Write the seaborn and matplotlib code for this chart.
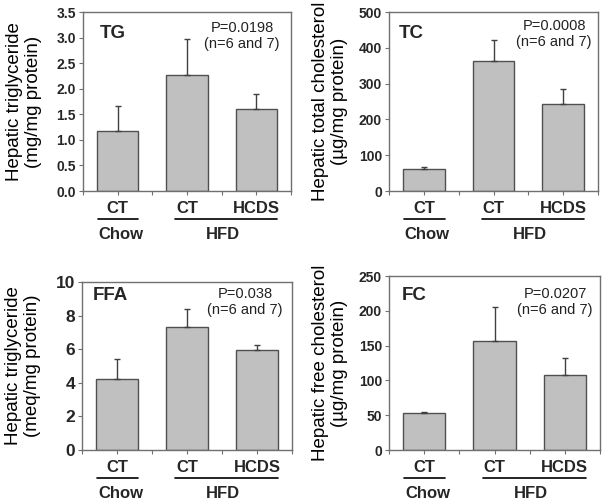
import numpy as np
import matplotlib
matplotlib.use("Agg")
import matplotlib.pyplot as plt
import matplotlib.transforms as mtransforms
import seaborn as sns

# group keys and what's printed under the bars
groups = ["Chow CT", "HFD CT", "HFD HCDS"]
tick_labels = ["CT", "CT", "HCDS"]
diet_labels = ["Chow", "HFD"]

# values (mean and upper error)
tg_mean = [1.18, 2.27, 1.61]
tg_err = [0.48, 0.70, 0.28]
tc_mean = [61, 363, 244]
tc_err = [5, 60, 40]
ffa_mean = [4.22, 7.32, 5.97]
ffa_err = [1.22, 1.10, 0.28]
fc_mean = [53, 157, 108]
fc_err = [2, 49, 24]

sns.set_theme(style="ticks")
plt.rcParams["font.family"] = ["Liberation Sans", "DejaVu Sans"]

W, H = 607, 503
fig = plt.figure(figsize=(W / 100, H / 100), dpi=100)
fig.patch.set_facecolor("white")

# left, right, top, bottom in pixels; name offsets (x from left, y from top); p text offsets
panels = [
    dict(box=(83, 291, 12, 191), mean=tg_mean, err=tg_err, ylim=3.5, step=0.5, fmt="{:.1f}", tfs=10,
         ylabel="Hepatic triglyceride\n(mg/mg protein)", name="TG", name_off=(17, 21),
         ptext="P=0.0198\n(n=6 and 7)", p_off=(49, 24)),
    dict(box=(389, 598, 12, 191), mean=tc_mean, err=tc_err, ylim=500, step=100, fmt="{:.0f}", tfs=10,
         ylabel="Hepatic total cholesterol\n(µg/mg protein)", name="TC", name_off=(10, 21),
         ptext="P=0.0008\n(n=6 and 7)", p_off=(44, 22)),
    dict(box=(82, 292, 282, 450), mean=ffa_mean, err=ffa_err, ylim=10, step=2, fmt="{:.0f}", tfs=12.5,
         ylabel="Hepatic triglyceride\n(meq/mg protein)", name="FFA", name_off=(11, 14),
         ptext="P=0.038\n(n=6 and 7)", p_off=(47, 20)),
    dict(box=(389, 600, 276, 450), mean=fc_mean, err=fc_err, ylim=250, step=50, fmt="{:.0f}", tfs=10,
         ylabel="Hepatic free cholesterol\n(µg/mg protein)", name="FC", name_off=(13, 19),
         ptext="P=0.0207\n(n=6 and 7)", p_off=(45, 26)),
]

for p in panels:
    l, r, t, b = p["box"]
    ax = fig.add_axes([l / W, 1 - b / H, (r - l) / W, (b - t) / H])
    sns.barplot(x=groups, y=p["mean"], order=groups, color="#c0c0c0", saturation=1,
                width=0.6, edgecolor="#505050", linewidth=1, errorbar=None, ax=ax)
    ax.errorbar(np.arange(3), p["mean"], yerr=[np.zeros(3), p["err"]], fmt="none",
                ecolor="#404040", elinewidth=1, capsize=2, capthick=1)

    ax.set_xlim(-0.5, 2.5)
    ax.set_ylim(0, p["ylim"])
    yt = np.arange(0, p["ylim"] + p["step"] / 2, p["step"])
    ax.set_yticks(yt)
    ax.set_yticklabels([p["fmt"].format(v) for v in yt], fontsize=p["tfs"], fontweight="bold")
    ax.set_xticks(np.arange(-0.5, 2.6, 0.5))
    ax.set_xticklabels([])
    ax.set_xlabel("")
    ax.tick_params(axis="both", direction="out", length=3, width=0.8, color="#707070", pad=2)
    for s in ax.spines.values():
        s.set_visible(True)
        s.set_color("#707070")
        s.set_linewidth(1)

    ax.set_ylabel(p["ylabel"], fontsize=13.5, linespacing=1.1, color="black")
    ax.yaxis.label.set_va("center")
    ax.yaxis.set_label_coords(-59 / (r - l), 0.5)

    # group labels under the axis
    xt = ax.get_xaxis_transform()
    t1 = mtransforms.offset_copy(xt, fig=fig, y=-17, units="dots")
    t2 = mtransforms.offset_copy(xt, fig=fig, y=-28, units="dots")
    t3 = mtransforms.offset_copy(xt, fig=fig, y=-43, units="dots")
    for i, lab in enumerate(tick_labels):
        ax.text(i, 0, lab, transform=t1, ha="center", va="center",
                fontsize=12, fontweight="bold")
    ax.plot([-0.28, 0.3], [0, 0], transform=t2, color="black", lw=1.2, clip_on=False)
    ax.plot([0.83, 2.3], [0, 0], transform=t2, color="black", lw=1.2, clip_on=False)
    ax.text(0.05, 0, diet_labels[0], transform=t3, ha="center", va="center",
            fontsize=12, fontweight="bold")
    ax.text(1.52, 0, diet_labels[1], transform=t3, ha="center", va="center",
            fontsize=12, fontweight="bold")

    # panel name and p value
    w, h = r - l, b - t
    ax.text(p["name_off"][0] / w, 1 - p["name_off"][1] / h, p["name"], transform=ax.transAxes,
            ha="left", va="center", fontsize=13.5, fontweight="bold")
    ax.text(1 - p["p_off"][0] / w, 1 - p["p_off"][1] / h, p["ptext"], transform=ax.transAxes,
            ha="center", va="center", fontsize=10.5, linespacing=1.2, color="#222222")

fig.savefig("out.png", dpi=100, facecolor="white")
